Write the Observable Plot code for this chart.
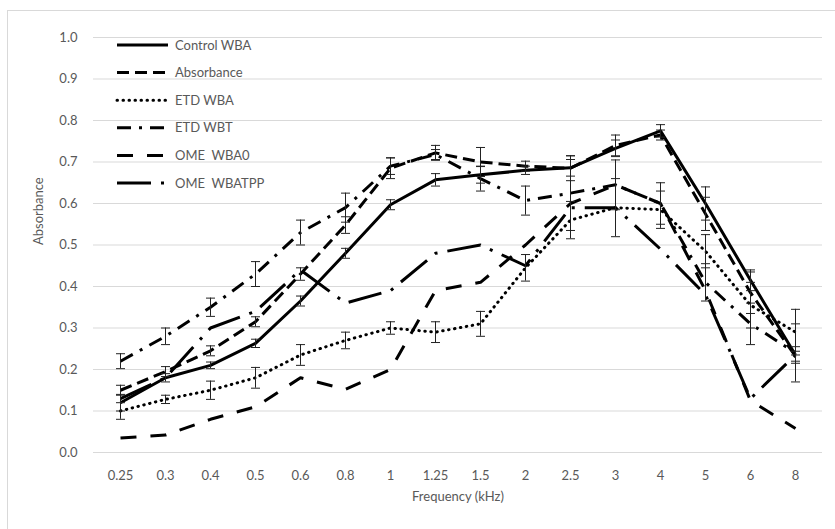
<!DOCTYPE html>
<html>
<head>
<meta charset="utf-8">
<script src="https://cdn.jsdelivr.net/npm/d3@7"></script>
<script src="https://cdn.jsdelivr.net/npm/@observablehq/plot@0.6"></script>
<style>
  html, body { margin: 0; padding: 0; background: #fff; }
  #wrap { position: relative; width: 835px; height: 529px; overflow: hidden; font-family: Lato, "Open Sans", sans-serif; }
  #frame { position: absolute; left: 7px; top: 10px; width: 900px; height: 600px; border: 1px solid #d9d9d9; box-sizing: border-box; pointer-events: none; }
  #legend { position: absolute; left: 0; top: 0; }
</style>
</head>
<body>
<div id="wrap">
  <div id="frame"></div>
  <div id="chart"></div>
  <svg id="legend" width="835" height="529"></svg>
</div>
<script>
// ---- data ----
const frequencies = ["0.25","0.3","0.4","0.5","0.6","0.8","1","1.25","1.5","2","2.5","3","4","5","6","8"];
const yTicks = [0,0.1,0.2,0.3,0.4,0.5,0.6,0.7,0.8,0.9,1.0];

const seriesNames = ["Control WBA","Absorbance","ETD WBA","ETD WBT","OME  WBA0","OME  WBATPP"];

const controlWBA   = [0.12,0.18,0.21,0.263,0.365,0.48,0.597,0.657,0.669,0.68,0.686,0.733,0.775,0.60,0.415,0.235];
const absorbance   = [0.15,0.195,0.245,0.315,0.43,0.548,0.685,0.722,0.70,0.69,0.685,0.74,0.765,0.575,0.385,0.232];
const etdWBA       = [0.10,0.128,0.15,0.18,0.235,0.27,0.30,0.29,0.31,0.445,0.56,0.59,0.585,0.485,0.355,0.29];
const etdWBT       = [0.22,0.28,0.35,0.43,0.53,0.59,0.69,0.718,0.66,0.607,0.625,0.645,0.60,0.41,0.31,0.24];
const omeWBA0      = [0.035,0.042,0.08,0.11,0.18,0.152,0.20,0.39,0.41,0.50,0.60,0.645,0.60,0.39,0.125,0.058];
const omeWBATPP    = [0.13,0.18,0.30,0.34,0.44,0.36,0.39,0.48,0.50,0.45,0.59,0.59,0.49,0.38,0.13,0.235];

// error bar half-widths (only the series that carry bars)
const errControl    = [0.02,0.01,0.008,0.01,0.012,0.012,0.012,0.015,0.02,0.01,0.02,0.02,0.015,0.04,0.025,0.02];
const errAbsorbance = [0.012,0.012,0.012,0.012,0.015,0.02,0.025,0.018,0.035,0.012,0.03,0.025,0.012,0.04,0.05,0.012];
const errETDWBA     = [0.02,0.01,0.022,0.025,0.025,0.02,0.015,0.025,0.03,0.032,0.045,0.07,0.045,0.04,0.055,0.055];
const errETDWBT     = [0.018,0.02,0.022,0.03,0.03,0.035,0.02,0.012,0.03,0.035,0.09,0.06,0.05,0.045,0.05,0.07];

const seriesValues = [controlWBA, absorbance, etdWBA, etdWBT, omeWBA0, omeWBATPP];
const seriesErrors = [errControl, errAbsorbance, errETDWBA, errETDWBT, null, null];
const seriesDash   = [null, "12,6", "0.5,5.5", "14,8,3,8", "16,14", "34,10,3,10"];
const seriesCap    = ["butt", "butt", "round", "butt", "butt", "butt"];

// ---- build tables ----
const rows = [];
const errRows = [];
seriesNames.forEach((name, s) => {
  frequencies.forEach((f, i) => {
    rows.push({series: name, s, freq: f, value: seriesValues[s][i]});
    if (seriesErrors[s]) {
      const e = seriesErrors[s][i];
      errRows.push({series: name, freq: f, value: seriesValues[s][i], lo: seriesValues[s][i] - e, hi: seriesValues[s][i] + e});
    }
  });
});

const capSymbol = {
  draw(context, size) {
    const w = Math.sqrt(size / Math.PI);
    context.moveTo(-w, 0);
    context.lineTo(w, 0);
  }
};

const font = "Lato, 'Open Sans', sans-serif";
const marks = [
  Plot.gridY(yTicks, {stroke: "#d9d9d9", strokeOpacity: 1, strokeWidth: 1}),
  Plot.axisY(yTicks, {tickSize: 0, tickPadding: 16, tickFormat: d3.format(".1f"), fontSize: 13, fill: "#595959", label: null}),
  Plot.axisX(frequencies, {tickSize: 0, tickPadding: 18, fontSize: 13, fill: "#595959", label: null}),
  Plot.text(["Absorbance"], {frameAnchor: "left", dx: -55, rotate: -90, fontSize: 13, fill: "#595959"}),
  Plot.text(["Frequency (kHz)"], {frameAnchor: "bottom", dy: 48, fontSize: 13, fill: "#595959"})
];
seriesNames.forEach((name, s) => {
  marks.push(Plot.line(rows.filter(d => d.s === s), {
    x: "freq", y: "value", stroke: "#000", strokeWidth: 3,
    strokeDasharray: seriesDash[s] || undefined,
    strokeLinecap: seriesCap[s],
    strokeLinejoin: "round"
  }));
});
marks.push(
  Plot.ruleX(errRows, {x: "freq", y1: "lo", y2: "hi", stroke: "#222", strokeWidth: 1}),
  Plot.dot(errRows, {x: "freq", y: "lo", symbol: capSymbol, r: 4.5, stroke: "#222", strokeWidth: 1, fill: "none"}),
  Plot.dot(errRows, {x: "freq", y: "hi", symbol: capSymbol, r: 4.5, stroke: "#222", strokeWidth: 1, fill: "none"})
);

const chart = Plot.plot({
  width: 835,
  height: 529,
  marginLeft: 93,
  marginRight: 13,
  marginTop: 37,
  marginBottom: 77,
  style: {background: "transparent", fontFamily: font, overflow: "visible"},
  x: {type: "point", domain: frequencies, padding: 0.5, axis: null},
  y: {domain: [0, 1], axis: null},
  marks
});
document.getElementById("chart").appendChild(chart);

// ---- legend (drawn in the plot's upper-left area) ----
const legend = d3.select("#legend");
const lx0 = 117, lx1 = 168, ltx = 175, ly0 = 45, lstep = 27.6;
seriesNames.forEach((name, s) => {
  const y = ly0 + s * lstep;
  legend.append("line")
    .attr("x1", lx0).attr("x2", lx1).attr("y1", y).attr("y2", y)
    .attr("stroke", "#000").attr("stroke-width", 3)
    .attr("stroke-dasharray", seriesDash[s] || null)
    .attr("stroke-linecap", seriesCap[s]);
  legend.append("text")
    .attr("x", ltx).attr("y", y).attr("dy", "0.35em")
    .attr("font-family", font).attr("font-size", 13).attr("fill", "#595959")
    .style("white-space", "pre")
    .text(name);
});
</script>
</body>
</html>
